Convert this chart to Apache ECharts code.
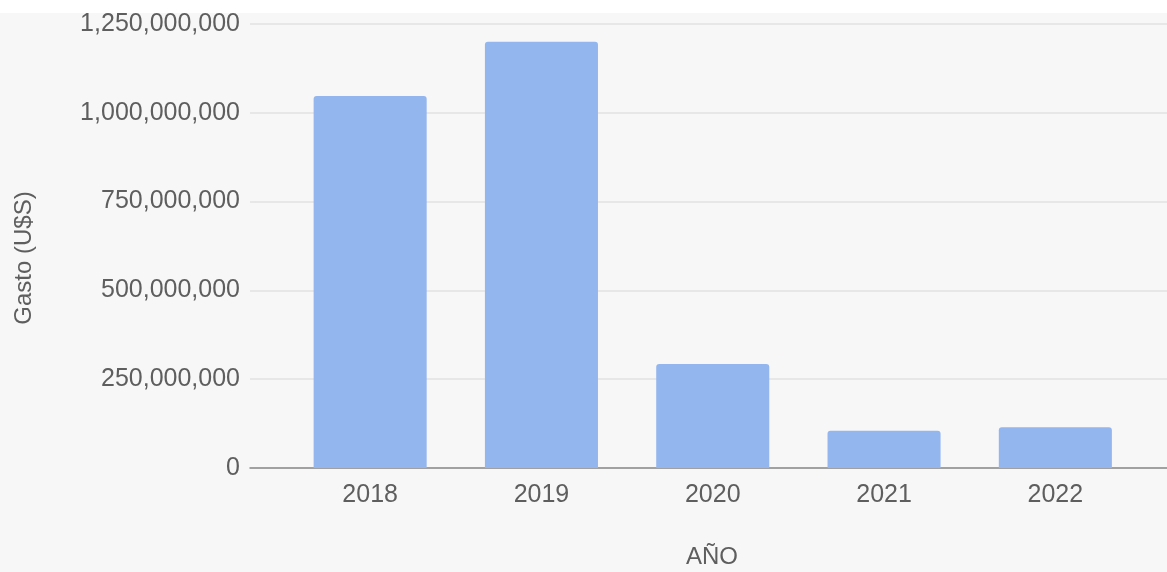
<!DOCTYPE html>
<html>
<head>
<meta charset="utf-8">
<script src="https://cdn.jsdelivr.net/npm/echarts@6/dist/echarts.min.js"></script>
<style>
html,body{margin:0;padding:0;background:#f7f7f7;}
#chart{width:1167px;height:572px;}
</style>
</head>
<body>
<div id="chart"></div>
<script>
var categories = ['2018', '2019', '2020', '2021', '2022'];
var gasto = [1047000000, 1200000000, 293000000, 105000000, 115000000];
var yTicks = [0, 250000000, 500000000, 750000000, 1000000000, 1250000000];

var yMin = yTicks[0];
var yMax = yTicks[yTicks.length - 1];
var yStep = yTicks[1] - yTicks[0];

function fmt(v) {
  return String(Math.round(v)).replace(/\B(?=(\d{3})+(?!\d))/g, ',');
}

var textColor = '#5e5e5e';
var fontFam = '"Liberation Sans", Arial, sans-serif';

var chart = echarts.init(document.getElementById('chart'));
chart.setOption({
  backgroundColor: '#f7f7f7',
  animation: false,
  graphic: [
    { type: 'rect', left: 0, top: 0, shape: { width: 1167, height: 13 }, style: { fill: '#ffffff' }, z: -1 },
    { type: 'text', x: 24, y: 258, rotation: Math.PI / 2,
      style: { text: 'Gasto (U$S)', fill: textColor, font: '24px ' + fontFam, align: 'center', verticalAlign: 'middle' } },
    { type: 'text', x: 712, y: 557,
      style: { text: 'AÑO', fill: textColor, font: '24px ' + fontFam, align: 'center', verticalAlign: 'middle' } }
  ],
  grid: [
    { left: 250, right: 0, top: 24, bottom: 104 },
    { left: 284.5, right: 26, top: 24, bottom: 104 }
  ],
  xAxis: [
    { gridIndex: 0, type: 'value', min: 0, max: 1, show: true,
      axisLabel: { show: false }, axisTick: { show: false }, splitLine: { show: false },
      axisLine: { show: true, onZero: false, lineStyle: { color: '#8a8a8a', width: 1.5 } } },
    { gridIndex: 1, type: 'category', data: categories,
      axisLine: { show: false }, axisTick: { show: false },
      axisLabel: { color: textColor, fontSize: 25, fontFamily: fontFam, margin: 15 } }
  ],
  yAxis: [
    { gridIndex: 0, type: 'value', min: yMin, max: yMax, interval: yStep,
      axisLine: { show: false }, axisTick: { show: false },
      axisLabel: { color: textColor, fontSize: 25, fontFamily: fontFam, margin: 10, formatter: fmt },
      splitLine: { lineStyle: { color: '#e2e2e2', width: 1.5 } } },
    { gridIndex: 1, type: 'value', min: yMin, max: yMax, interval: yStep, show: false,
      splitLine: { show: false } }
  ],
  series: [
    { type: 'bar', xAxisIndex: 1, yAxisIndex: 1, data: gasto,
      barCategoryGap: '34%',
      itemStyle: { color: '#94b6ef', borderRadius: [3, 3, 0, 0] } }
  ]
});
</script>
</body>
</html>
